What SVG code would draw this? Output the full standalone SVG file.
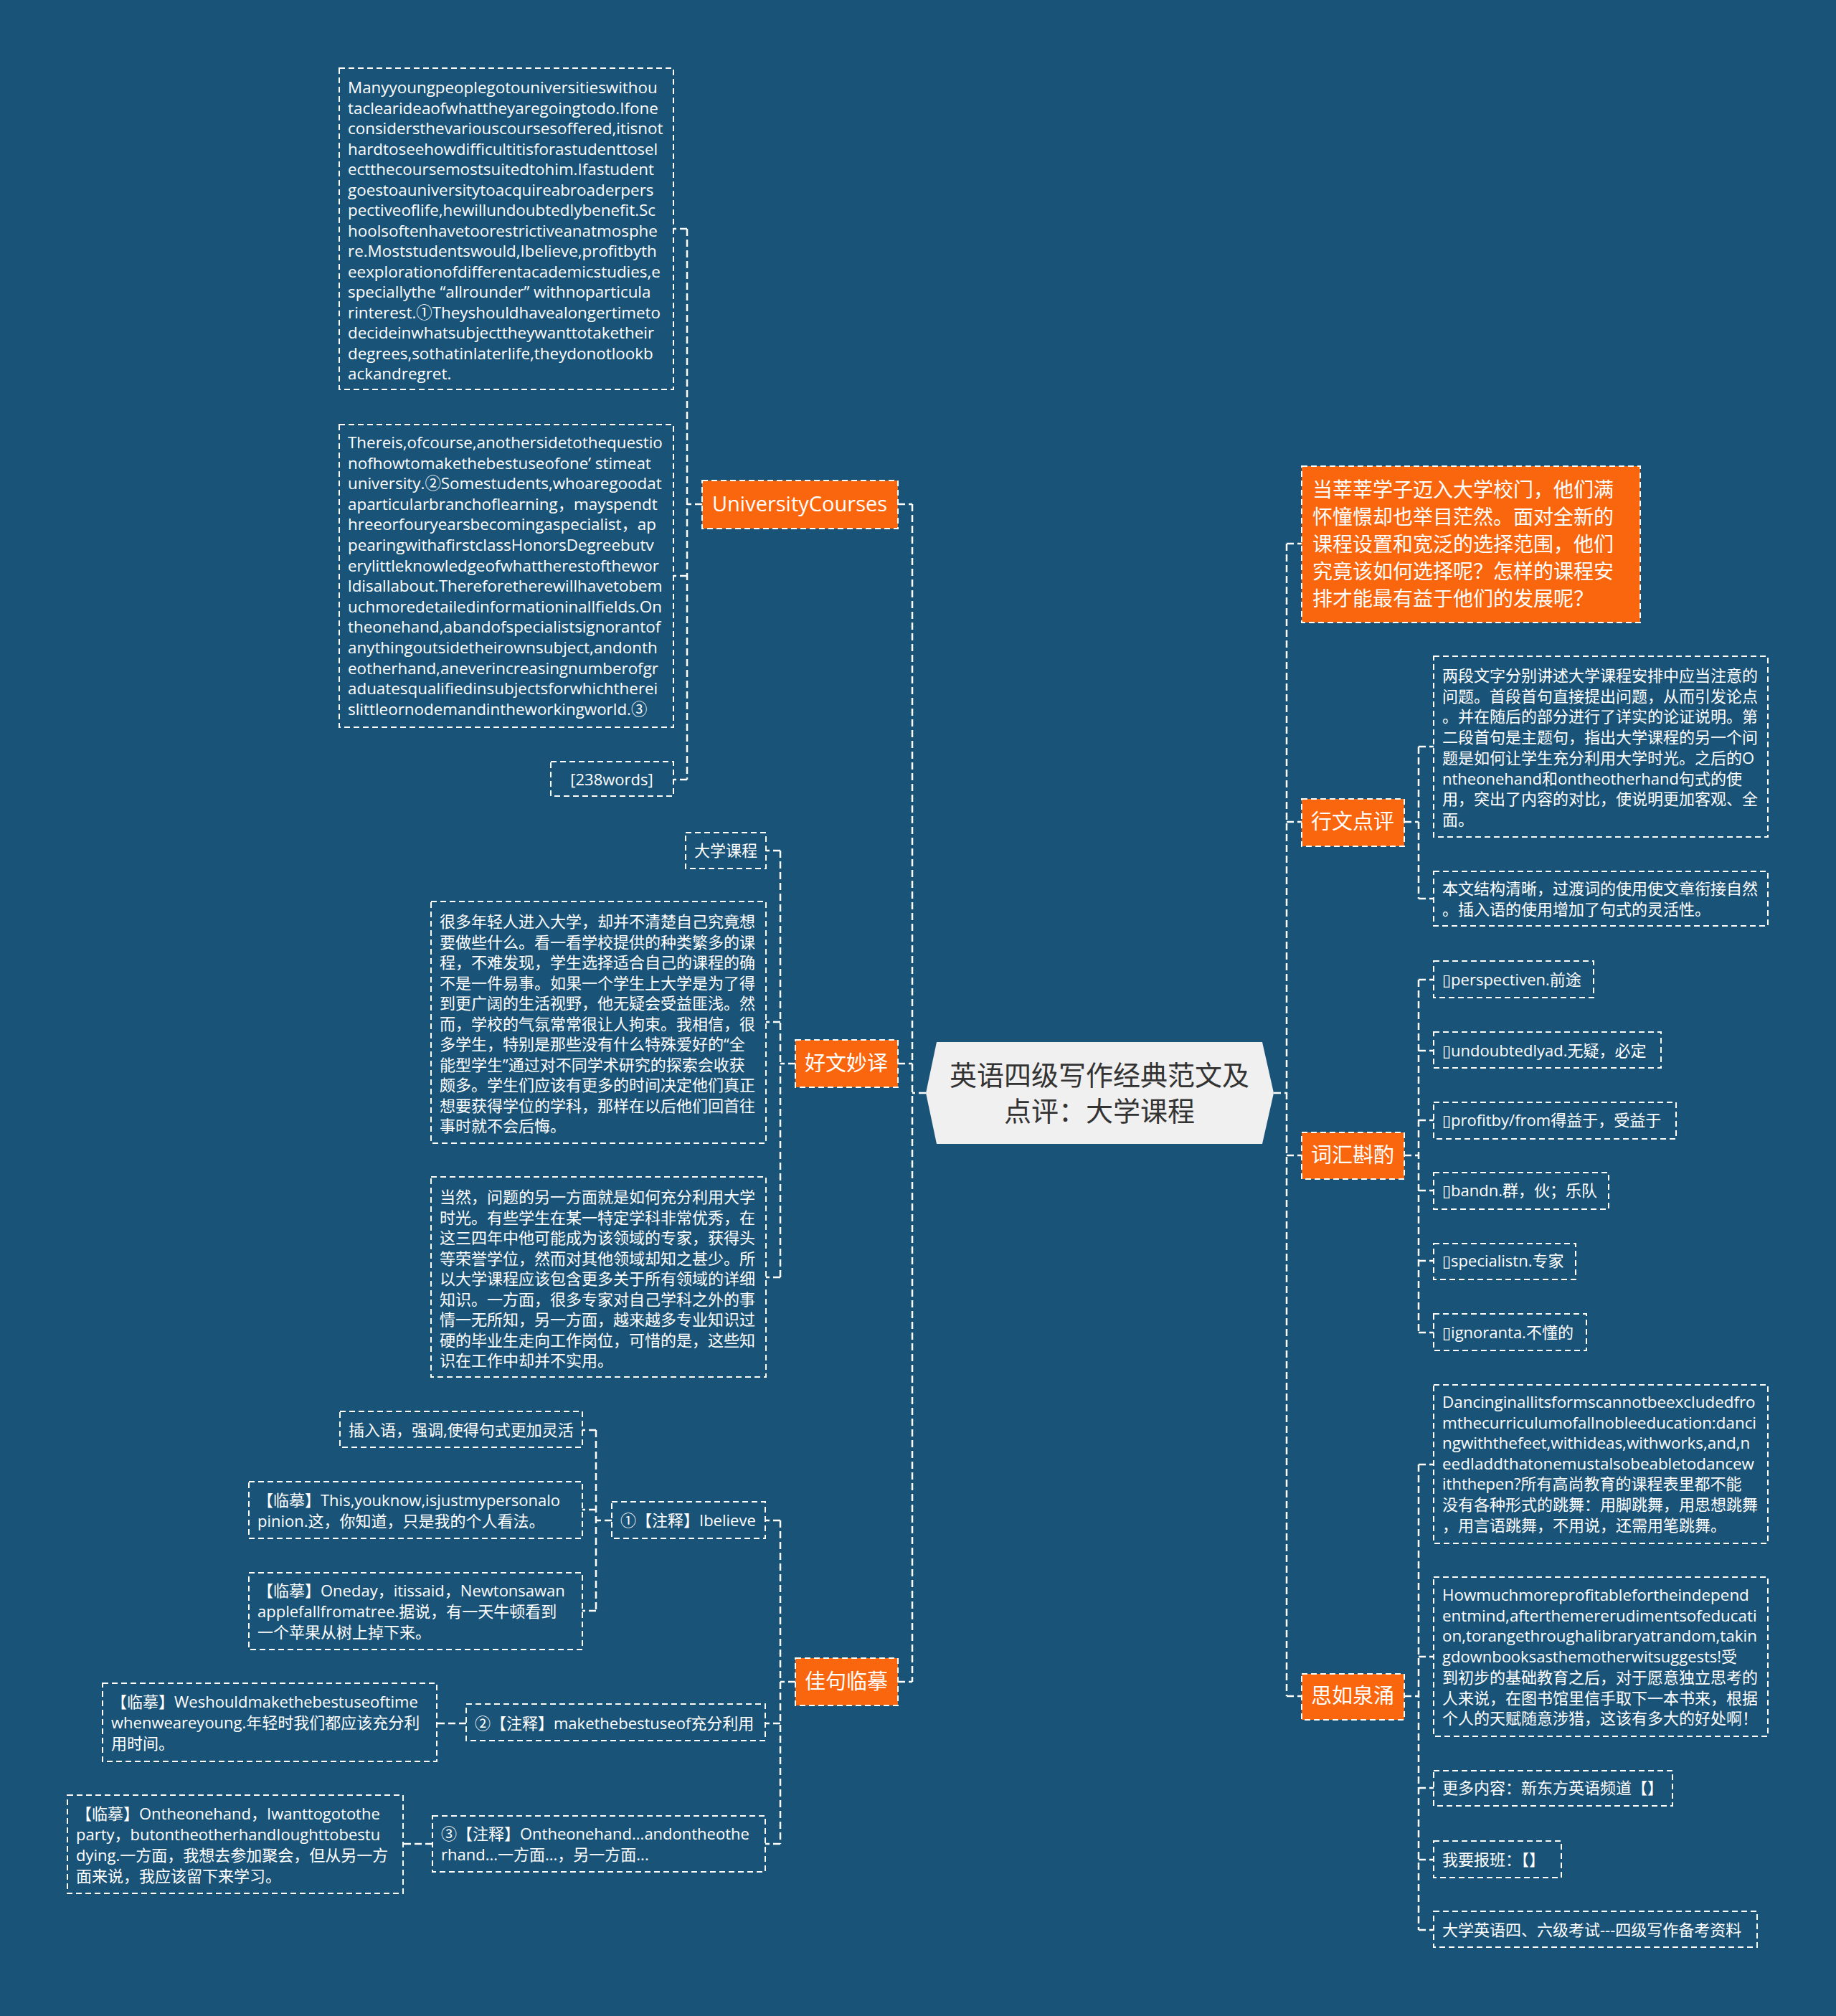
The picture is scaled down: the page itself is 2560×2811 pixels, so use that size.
<svg xmlns="http://www.w3.org/2000/svg" width="2560" height="2811" viewBox="0 0 2560 2811">
<style>
.bg{fill:#1a5378}
.box{fill:none;stroke:#ffffff;stroke-width:2;stroke-dasharray:8 5}
.obox{fill:#f9660d;stroke:#ffffff;stroke-width:2;stroke-dasharray:8 5}
.t{font-family:"Open Sans","Noto Sans CJK SC","DejaVu Sans",sans-serif;font-size:22px;fill:#ffffff}
.e{font-size:22.4px}
.lbl{font-family:"Open Sans","Noto Sans CJK SC",sans-serif;font-size:29px;fill:#ffffff;text-anchor:middle}
.big{font-family:"Noto Sans CJK SC",sans-serif;font-size:28px;fill:#ffffff}
.title{font-family:"Noto Sans CJK SC",sans-serif;font-size:38px;fill:#333333;text-anchor:middle}
.c{fill:none;stroke:#ffffff;stroke-width:2.5;stroke-dasharray:10 5}
</style>
<rect class="bg" x="0" y="0" width="2560" height="2811"/>

<g id="connectors">
<path class="c" d="M1291,1524 H1272 M1272,703 V2345 M1252,703 H1272 M1252,1483 H1272 M1252,2345 H1272"/>
<path class="c" d="M979,703 H958 M958,319 V1087 M958,319 H939 M958,803 H939 M958,1087 H939"/>
<path class="c" d="M1109,1483 H1088 M1088,1186 V1781 M1088,1186 H1068 M1088,1425 H1068 M1088,1781 H1068"/>
<path class="c" d="M1109,2345 H1088 M1088,2120 V2571 M1088,2120 H1067 M1088,2403 H1067 M1088,2571 H1067"/>
<path class="c" d="M853,2120 H831 M831,1994 V2246 M831,1994 H812 M831,2105 H812 M831,2246 H812"/>
<path class="c" d="M650,2403 H609 M603,2571 H562"/>
<path class="c" d="M1776,1524 H1794 M1794,758 V2365 M1794,758 H1815 M1794,1146 H1815 M1794,1611 H1815 M1794,2365 H1815"/>
<path class="c" d="M1958,1146 H1978 M1978,1041 V1253 M1978,1041 H1999 M1978,1253 H1999"/>
<path class="c" d="M1958,1611 H1978 M1978,1366 V1858 M1978,1366 H1999 M1978,1465 H1999 M1978,1562 H1999 M1978,1660 H1999 M1978,1758 H1999 M1978,1858 H1999"/>
<path class="c" d="M1958,2365 H1978 M1978,2042 V2691 M1978,2042 H1999 M1978,2310 H1999 M1978,2493 H1999 M1978,2593 H1999 M1978,2691 H1999"/>
</g>

<g id="root">
<polygon points="1306,1453 1760,1453 1776,1524 1760,1595 1306,1595 1291,1524" fill="#f0f0f0"/>
<text class="title" x="1533" y="1513">英语四级写作经典范文及</text>
<text class="title" x="1533" y="1563">点评：大学课程</text>
</g>

<g id="n-university">
<rect class="obox" x="979" y="670" width="273" height="67"/>
<text class="lbl" x="1115" y="713">UniversityCourses</text>
</g>

<g id="n-en1">
<rect class="box" x="473" y="95" width="466" height="448"/>
<text class="t e">
<tspan x="485" y="130">Manyyoungpeoplegotouniversitieswithou</tspan>
<tspan x="485" y="158.5">taclearideaofwhattheyaregoingtodo.Ifone</tspan>
<tspan x="485" y="187">considersthevariouscoursesoffered,itisnot</tspan>
<tspan x="485" y="215.5">hardtoseehowdifficultitisforastudenttosel</tspan>
<tspan x="485" y="244">ectthecoursemostsuitedtohim.Ifastudent</tspan>
<tspan x="485" y="272.5">goestoauniversitytoacquireabroaderpers</tspan>
<tspan x="485" y="301">pectiveoflife,hewillundoubtedlybenefit.Sc</tspan>
<tspan x="485" y="329.5">hoolsoftenhavetoorestrictiveanatmosphe</tspan>
<tspan x="485" y="358">re.Moststudentswould,Ibelieve,profitbyth</tspan>
<tspan x="485" y="386.5">eexplorationofdifferentacademicstudies,e</tspan>
<tspan x="485" y="415">speciallythe “allrounder” withnoparticula</tspan>
<tspan x="485" y="443.5">rinterest.①Theyshouldhavealongertimeto</tspan>
<tspan x="485" y="472">decideinwhatsubjecttheywanttotaketheir</tspan>
<tspan x="485" y="500.5">degrees,sothatinlaterlife,theydonotlookb</tspan>
<tspan x="485" y="529">ackandregret.</tspan>
</text>
</g>

<g id="n-en2">
<rect class="box" x="473" y="592" width="466" height="422"/>
<text class="t e">
<tspan x="485" y="625">Thereis,ofcourse,anothersidetothequestio</tspan>
<tspan x="485" y="653.6">nofhowtomakethebestuseofone’ stimeat</tspan>
<tspan x="485" y="682.2">university.②Somestudents,whoaregoodat</tspan>
<tspan x="485" y="710.8">aparticularbranchoflearning，mayspendt</tspan>
<tspan x="485" y="739.4">hreeorfouryearsbecomingaspecialist，ap</tspan>
<tspan x="485" y="768">pearingwithafirstclassHonorsDegreebutv</tspan>
<tspan x="485" y="796.6">erylittleknowledgeofwhattherestofthewor</tspan>
<tspan x="485" y="825.2">ldisallabout.Thereforetherewillhavetobem</tspan>
<tspan x="485" y="853.8">uchmoredetailedinformationinallfields.On</tspan>
<tspan x="485" y="882.4">theonehand,abandofspecialistsignorantof</tspan>
<tspan x="485" y="911">anythingoutsidetheirownsubject,andonth</tspan>
<tspan x="485" y="939.6">eotherhand,aneverincreasingnumberofgr</tspan>
<tspan x="485" y="968.2">aduatesqualifiedinsubjectsforwhichtherei</tspan>
<tspan x="485" y="996.8">slittleornodemandintheworkingworld.③</tspan>
</text>
</g>

<g id="n-words">
<rect class="box" x="768" y="1062" width="171" height="48"/>
<text class="t" x="853" y="1095" text-anchor="middle">[238words]</text>
</g>

<g id="n-haowen">
<rect class="obox" x="1109" y="1450" width="143" height="66"/>
<text class="lbl" x="1180" y="1493">好文妙译</text>
</g>

<g id="n-daxue">
<rect class="box" x="956" y="1161" width="112" height="50"/>
<text class="t" x="968" y="1194">大学课程</text>
</g>

<g id="n-cn1">
<rect class="box" x="601" y="1257" width="467" height="337"/>
<text class="t">
<tspan x="613" y="1293">很多年轻人进入大学，却并不清楚自己究竟想</tspan>
<tspan x="613" y="1321.5">要做些什么。看一看学校提供的种类繁多的课</tspan>
<tspan x="613" y="1350">程，不难发现，学生选择适合自己的课程的确</tspan>
<tspan x="613" y="1378.5">不是一件易事。如果一个学生上大学是为了得</tspan>
<tspan x="613" y="1407">到更广阔的生活视野，他无疑会受益匪浅。然</tspan>
<tspan x="613" y="1435.5">而，学校的气氛常常很让人拘束。我相信，很</tspan>
<tspan x="613" y="1464">多学生，特别是那些没有什么特殊爱好的“全</tspan>
<tspan x="613" y="1492.5">能型学生”通过对不同学术研究的探索会收获</tspan>
<tspan x="613" y="1521">颇多。学生们应该有更多的时间决定他们真正</tspan>
<tspan x="613" y="1549.5">想要获得学位的学科，那样在以后他们回首往</tspan>
<tspan x="613" y="1578">事时就不会后悔。</tspan>
</text>
</g>

<g id="n-cn2">
<rect class="box" x="601" y="1641" width="467" height="279"/>
<text class="t">
<tspan x="613" y="1677">当然，问题的另一方面就是如何充分利用大学</tspan>
<tspan x="613" y="1705.5">时光。有些学生在某一特定学科非常优秀，在</tspan>
<tspan x="613" y="1734">这三四年中他可能成为该领域的专家，获得头</tspan>
<tspan x="613" y="1762.5">等荣誉学位，然而对其他领域却知之甚少。所</tspan>
<tspan x="613" y="1791">以大学课程应该包含更多关于所有领域的详细</tspan>
<tspan x="613" y="1819.5">知识。一方面，很多专家对自己学科之外的事</tspan>
<tspan x="613" y="1848">情一无所知，另一方面，越来越多专业知识过</tspan>
<tspan x="613" y="1876.5">硬的毕业生走向工作岗位，可惜的是，这些知</tspan>
<tspan x="613" y="1905">识在工作中却并不实用。</tspan>
</text>
</g>

<g id="n-jiaju">
<rect class="obox" x="1109" y="2312" width="143" height="66"/>
<text class="lbl" x="1180" y="2355">佳句临摹</text>
</g>

<g id="n-note1">
<rect class="box" x="853" y="2094" width="214" height="51"/>
<text class="t" x="865" y="2128">①【注释】Ibelieve</text>
</g>

<g id="n-insert">
<rect class="box" x="474" y="1968" width="338" height="50"/>
<text class="t" x="486" y="2002">插入语，强调,使得句式更加灵活</text>
</g>

<g id="n-lin1">
<rect class="box" x="347" y="2066" width="465" height="79"/>
<text class="t">
<tspan x="359" y="2100">【临摹】This,youknow,isjustmypersonalo</tspan>
<tspan x="359" y="2129">pinion.这，你知道，只是我的个人看法。</tspan>
</text>
</g>

<g id="n-lin2">
<rect class="box" x="347" y="2193" width="465" height="107"/>
<text class="t">
<tspan x="359" y="2226">【临摹】Oneday，itissaid，Newtonsawan</tspan>
<tspan x="359" y="2255">applefallfromatree.据说，有一天牛顿看到</tspan>
<tspan x="359" y="2284">一个苹果从树上掉下来。</tspan>
</text>
</g>

<g id="n-note2">
<rect class="box" x="650" y="2376" width="417" height="51"/>
<text class="t" x="662" y="2411">②【注释】makethebestuseof充分利用</text>
</g>

<g id="n-lin3">
<rect class="box" x="143" y="2347" width="466" height="109"/>
<text class="t">
<tspan x="155" y="2381">【临摹】Weshouldmakethebestuseoftime</tspan>
<tspan x="155" y="2410">whenweareyoung.年轻时我们都应该充分利</tspan>
<tspan x="155" y="2439">用时间。</tspan>
</text>
</g>

<g id="n-note3">
<rect class="box" x="603" y="2532" width="464" height="78"/>
<text class="t">
<tspan x="615" y="2565">③【注释】Ontheonehand...andontheothe</tspan>
<tspan x="615" y="2594">rhand...一方面...，另一方面...</tspan>
</text>
</g>

<g id="n-lin4">
<rect class="box" x="94" y="2503" width="468" height="137"/>
<text class="t">
<tspan x="106" y="2537">【临摹】Ontheonehand，Iwanttogotothe</tspan>
<tspan x="106" y="2566">party，butontheotherhandIoughttobestu</tspan>
<tspan x="106" y="2595">dying.一方面，我想去参加聚会，但从另一方</tspan>
<tspan x="106" y="2624">面来说，我应该留下来学习。</tspan>
</text>
</g>

<g id="n-intro">
<rect class="obox" x="1815" y="650" width="472" height="218"/>
<text class="big">
<tspan x="1830" y="693">当莘莘学子迈入大学校门，他们满</tspan>
<tspan x="1830" y="731">怀憧憬却也举目茫然。面对全新的</tspan>
<tspan x="1830" y="769">课程设置和宽泛的选择范围，他们</tspan>
<tspan x="1830" y="807">究竟该如何选择呢？怎样的课程安</tspan>
<tspan x="1830" y="845">排才能最有益于他们的发展呢？</tspan>
</text>
</g>

<g id="n-xingwen">
<rect class="obox" x="1815" y="1114" width="143" height="66"/>
<text class="lbl" x="1886" y="1156">行文点评</text>
</g>

<g id="n-comment1">
<rect class="box" x="1999" y="915" width="466" height="252"/>
<text class="t">
<tspan x="2011" y="950">两段文字分别讲述大学课程安排中应当注意的</tspan>
<tspan x="2011" y="978.7">问题。首段首句直接提出问题，从而引发论点</tspan>
<tspan x="2011" y="1007.4">。并在随后的部分进行了详实的论证说明。第</tspan>
<tspan x="2011" y="1036.1">二段首句是主题句，指出大学课程的另一个问</tspan>
<tspan x="2011" y="1064.8">题是如何让学生充分利用大学时光。之后的O</tspan>
<tspan x="2011" y="1093.5">ntheonehand和ontheotherhand句式的使</tspan>
<tspan x="2011" y="1122.2">用，突出了内容的对比，使说明更加客观、全</tspan>
<tspan x="2011" y="1150.9">面。</tspan>
</text>
</g>

<g id="n-comment2">
<rect class="box" x="1999" y="1215" width="466" height="76"/>
<text class="t">
<tspan x="2011" y="1247">本文结构清晰，过渡词的使用使文章衔接自然</tspan>
<tspan x="2011" y="1275.5">。插入语的使用增加了句式的灵活性。</tspan>
</text>
</g>

<g id="n-cihui">
<rect class="obox" x="1815" y="1579" width="143" height="65"/>
<text class="lbl" x="1886" y="1621">词汇斟酌</text>
</g>

<g id="n-v1">
<rect class="box" x="1999" y="1340" width="223" height="51"/>
<text class="t" x="2011" y="1374">▯perspectiven.前途</text>
</g>
<g id="n-v2">
<rect class="box" x="1999" y="1439" width="317" height="50"/>
<text class="t" x="2011" y="1473">▯undoubtedlyad.无疑，必定</text>
</g>
<g id="n-v3">
<rect class="box" x="1999" y="1537" width="338" height="51"/>
<text class="t" x="2011" y="1570">▯profitby/from得益于，受益于</text>
</g>
<g id="n-v4">
<rect class="box" x="1999" y="1635" width="244" height="51"/>
<text class="t" x="2011" y="1668">▯bandn.群，伙；乐队</text>
</g>
<g id="n-v5">
<rect class="box" x="1999" y="1734" width="198" height="50"/>
<text class="t" x="2011" y="1766">▯specialistn.专家</text>
</g>
<g id="n-v6">
<rect class="box" x="1999" y="1832" width="213" height="51"/>
<text class="t" x="2011" y="1866">▯ignoranta.不懂的</text>
</g>

<g id="n-siru">
<rect class="obox" x="1815" y="2334" width="143" height="64"/>
<text class="lbl" x="1886" y="2375">思如泉涌</text>
</g>

<g id="n-dance">
<rect class="box" x="1999" y="1931" width="466" height="221"/>
<text class="t">
<tspan class="e" x="2011" y="1963">Dancinginallitsformscannotbeexcludedfro</tspan>
<tspan class="e" x="2011" y="1991.6">mthecurriculumofallnobleeducation:danci</tspan>
<tspan class="e" x="2011" y="2020.2">ngwiththefeet,withideas,withworks,and,n</tspan>
<tspan class="e" x="2011" y="2048.8">eedIaddthatonemustalsobeabletodancew</tspan>
<tspan x="2011" y="2077.4">iththepen?所有高尚教育的课程表里都不能</tspan>
<tspan x="2011" y="2106">没有各种形式的跳舞：用脚跳舞，用思想跳舞</tspan>
<tspan x="2011" y="2134.6">，用言语跳舞，不用说，还需用笔跳舞。</tspan>
</text>
</g>

<g id="n-howmuch">
<rect class="box" x="1999" y="2199" width="466" height="222"/>
<text class="t">
<tspan class="e" x="2011" y="2232">Howmuchmoreprofitablefortheindepend</tspan>
<tspan class="e" x="2011" y="2260.7">entmind,afterthemererudimentsofeducati</tspan>
<tspan class="e" x="2011" y="2289.4">on,torangethroughalibraryatrandom,takin</tspan>
<tspan x="2011" y="2318.1">gdownbooksasthemotherwitsuggests!受</tspan>
<tspan x="2011" y="2346.8">到初步的基础教育之后，对于愿意独立思考的</tspan>
<tspan x="2011" y="2375.5">人来说，在图书馆里信手取下一本书来，根据</tspan>
<tspan x="2011" y="2404.2">个人的天赋随意涉猎，这该有多大的好处啊！</tspan>
</text>
</g>

<g id="n-more">
<rect class="box" x="1999" y="2469" width="333" height="49"/>
<text class="t" x="2011" y="2501">更多内容：新东方英语频道【】</text>
</g>
<g id="n-signup">
<rect class="box" x="1999" y="2567" width="178" height="51"/>
<text class="t" x="2011" y="2601">我要报班：【】</text>
</g>
<g id="n-cet">
<rect class="box" x="1999" y="2665" width="451" height="50"/>
<text class="t" x="2011" y="2699">大学英语四、六级考试---四级写作备考资料</text>
</g>
</svg>
